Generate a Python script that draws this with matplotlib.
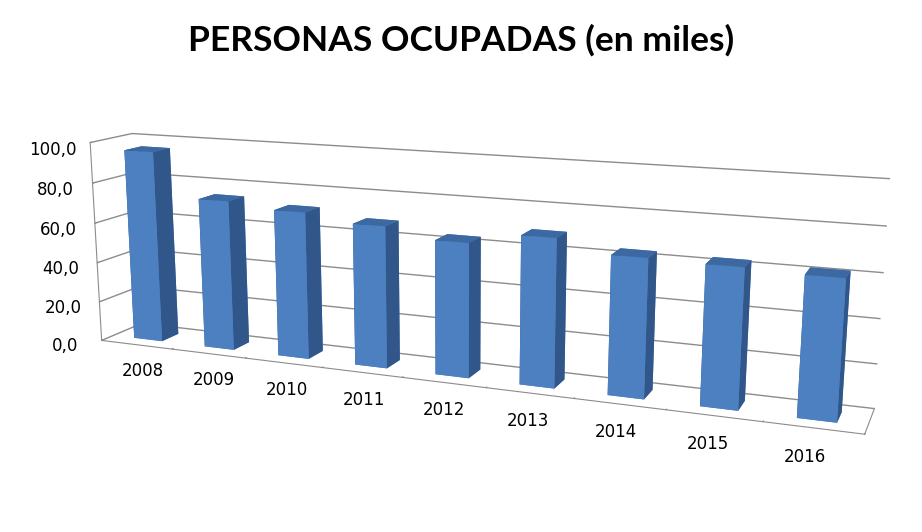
import matplotlib
matplotlib.use("Agg")
import matplotlib.pyplot as plt
import numpy as np
from matplotlib.ticker import FuncFormatter

# data
years = ["2008", "2009", "2010", "2011", "2012", "2013", "2014", "2015", "2016"]
ocupados = [95.5, 74.0, 71.5, 68.0, 63.5, 69.0, 63.5, 63.0, 62.0]
value_ticks = [0, 20, 40, 60, 80, 100]

FRONT = "#4D80C0"
SIDE = "#30568A"
TOP = "#3C69A2"
GRID = "#8C8C8C"

plt.rcParams["font.family"] = ["DejaVu Sans"]

fig = plt.figure(figsize=(9.22, 5.32), dpi=100)
fig.text(0.5, 0.925, "PERSONAS OCUPADAS (en miles)", ha="center", va="center",
         fontsize=25.5, fontweight="bold", family=["Lato", "DejaVu Sans"])

ax = fig.add_axes([-0.031, -0.016, 1.04, 1.0], projection="3d")
n = len(years)
xpos = np.arange(n)
bw, bd = 0.40, 0.42

# one cuboid per year; face order in bar3d: -z, +z, -y, +y, -x, +x
for x, v in zip(xpos, ocupados):
    bar = ax.bar3d(x - bw / 2, 0.5 - bd / 2, 0, bw, bd, v,
                   color=[FRONT, TOP, FRONT, FRONT, SIDE, SIDE], shade=False,
                   edgecolor="none")
    # the 2D axes box of a 3D axes is square, so do not clip the bars to it
    bar.set_clip_on(False)

ax.set_xlim(-0.5, n - 0.5)
ax.set_ylim(0, 1)
ax.set_zlim(0, 100)
ax.set_box_aspect((9, 0.85, 2.42), zoom=1.54)
ax.set_proj_type("persp", focal_length=0.5)
ax.view_init(elev=13, azim=-68)

# panes: only the walls' gridlines and the floor outline
for axis in (ax.xaxis, ax.yaxis, ax.zaxis):
    axis.set_pane_color((1, 1, 1, 0))
    axis.line.set_color(GRID)
    axis._axinfo["tick"]["inward_factor"] = 0.0
    axis._axinfo["tick"]["outward_factor"] = 0.35
ax.xaxis.pane.set_edgecolor("none")
ax.yaxis.pane.set_edgecolor("none")
ax.zaxis.pane.set_edgecolor(GRID)
ax.xaxis._axinfo["grid"]["linewidth"] = 0
ax.yaxis._axinfo["grid"]["linewidth"] = 0
ax.zaxis._axinfo["grid"]["color"] = GRID
ax.zaxis._axinfo["grid"]["linewidth"] = 1.0
ax.zaxis.set_ticks_position("lower")
ax.zaxis.set_label_position("lower")

ax.set_xticks(np.arange(n + 1) - 0.5)
ax.set_xticklabels([""] * (n + 1))
ax.set_yticks([])
ax.set_zticks(value_ticks)
ax.zaxis.set_major_formatter(FuncFormatter(lambda v, p: f"{v:.1f}".replace(".", ",")))
ax.tick_params(axis="z", labelsize=12, pad=3)
ax.tick_params(axis="both", color=GRID)

for x, yr in zip(xpos, years):
    ax.text(x - 0.1, 0.3, -17, yr, ha="center", va="center", fontsize=12)

fig.savefig("out.png", dpi=100)
